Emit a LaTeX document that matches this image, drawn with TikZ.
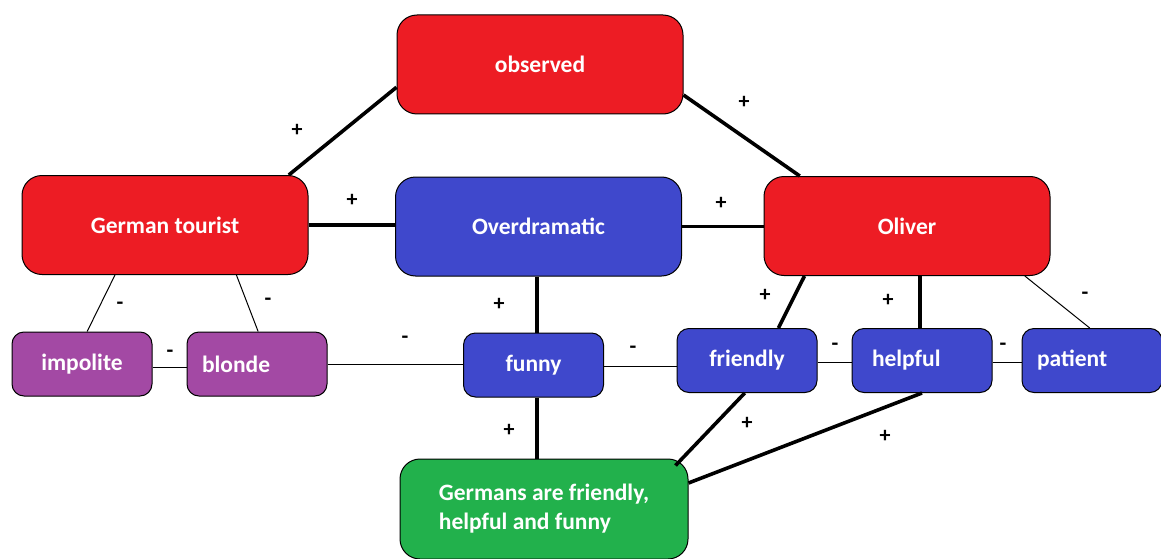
\documentclass[tikz,border=0pt]{standalone}
\usepackage{fontspec}
\setmainfont{Carlito}
\usetikzlibrary{calc}
\definecolor{pred}{HTML}{ED1C24}
\definecolor{pblue}{HTML}{3F48CC}
\definecolor{ppurple}{HTML}{A349A4}
\definecolor{pgreen}{HTML}{22B14C}
\tikzset{
  box/.style={draw=black, line width=1pt, text=white, inner sep=0pt,
    font=\bfseries\fontsize{23.5}{29}\selectfont},
  bigbox/.style={box, minimum width=286pt, minimum height=99pt, rounded corners=20pt},
  smallbox/.style={box, minimum width=140pt, minimum height=64pt, rounded corners=12pt},
  lefttext/.style={align=left, text width=#1},
  strong/.style={line width=3.6pt},
  weak/.style={line width=1pt},
  sign/.style={font=\bfseries\fontsize{22}{22}\selectfont, inner sep=0pt}
}
\begin{document}
\begin{tikzpicture}[x=1pt, y=-1pt]
\useasboundingbox (0,0) rectangle (1161,559);
\clip (0,0) rectangle (1161,559);

% concept boxes
\node[bigbox, fill=pred] (observed) at (540,64.5) {observed};
\node[bigbox, fill=pred] (tourist) at (165,225) {German tourist};
\node[bigbox, fill=pblue] (over) at (538.5,226.5) {Overdramatic};
\node[bigbox, fill=pred] (oliver) at (907,226) {Oliver};

\node[smallbox, fill=ppurple] (impolite) at (82,364) {impolite};
\node[smallbox, fill=ppurple, inner xsep=15pt, lefttext=110pt] (blonde) at (257,364) {blonde};
\node[smallbox, fill=pblue] (funny) at (533.5,365) {funny};
\node[smallbox, fill=pblue] (friendly) at (747,360.5) {friendly};
\node[smallbox, fill=pblue, inner xsep=20pt, lefttext=100pt] (helpful) at (922,360.5) {helpful};
\node[smallbox, fill=pblue, inner xsep=15pt, lefttext=110pt] (patient) at (1092,360.5) {patient};

\node[box, fill=pgreen, minimum width=288pt, minimum height=100pt, rounded corners=20pt,
      align=left] (germans) at (544,509)
      {Germans are friendly,\\helpful and funny};

% positive links
\draw[strong] (observed.189) -- (tourist.22);
\draw[strong] (observed.348) -- (oliver.155);
\draw[strong] (tourist.east) -- (tourist.east -| over.west);
\draw[strong] (over.east) -- (over.east -| oliver.west);
\draw[strong] (funny.north) ++(3.5pt,0) coordinate (fn) -- (fn |- over.south);
\draw[strong] (oliver.206) -- (friendly.46);
\draw[strong] (helpful.north) ++(-2pt,0) coordinate (hn) -- (hn |- oliver.south);
\draw[strong] (funny.south) ++(3.5pt,0) coordinate (fs) -- (fs |- germans.north);
\draw[strong] (friendly.266) -- ([shift={(-13pt,-7pt)}]germans.north east);
\draw[strong] (helpful.south) -- ([yshift=26pt]germans.east);

% negative links
\draw[weak] (tourist.225) -- (impolite.81);
\draw[weak] (tourist.325) -- (blonde.88);
\draw[weak] ([yshift=-3pt]impolite.east) -- ([yshift=-3pt]blonde.west);
\draw[weak] (blonde.east) -- (blonde.east -| funny.west);
\draw[weak] ([yshift=-1pt]funny.east) -- ([yshift=-1pt]funny.east -| friendly.west);
\draw[weak] ([yshift=-1.5pt]friendly.east) -- ([yshift=-1.5pt]helpful.west);
\draw[weak] ([yshift=-1.5pt]helpful.east) -- ([yshift=-1.5pt]patient.west);
\draw[weak] (oliver.337) -- (patient.94);

% signs
\node[sign] (s1) at (297,130) {+};
\node[sign] (s2) at (744,102) {+};
\node[sign] (s3) at (352,200) {+};
\node[sign] (s4) at (721,203) {+};
\node[sign] (s5) at (120,306) {-};
\node[sign] (s6) at (268,302) {-};
\node[sign] (s7) at (170,354) {-};
\node[sign] (s8) at (405,340) {-};
\node[sign] (s9) at (499,304) {+};
\node[sign] (s10) at (633,350) {-};
\node[sign] (s11) at (765,295) {+};
\node[sign] (s12) at (888,300) {+};
\node[sign] (s13) at (1085,296) {-};
\node[sign] (s14) at (835,347) {-};
\node[sign] (s15) at (1003,347) {-};
\node[sign] (s16) at (509,430) {+};
\node[sign] (s17) at (747,423) {+};
\node[sign] (s18) at (885,436) {+};
\end{tikzpicture}
\end{document}
